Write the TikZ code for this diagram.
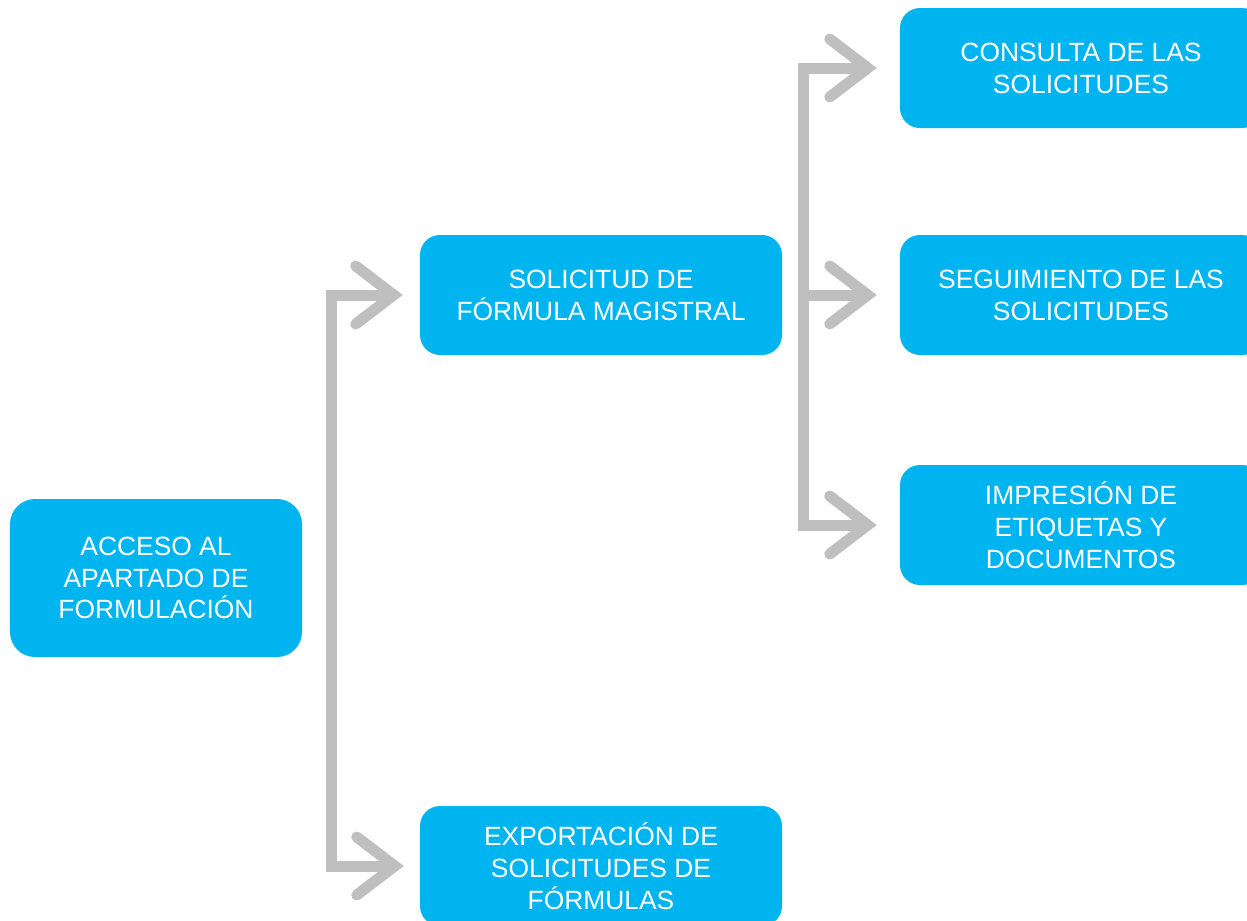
\documentclass[tikz,border=0pt]{standalone}
\usepackage{fontspec}
\setmainfont{Liberation Sans}
\usepackage[x11names, rgb]{xcolor}
\usepackage{tikz}
\usetikzlibrary{arrows.meta,shapes}

\definecolor{boxcol}{HTML}{00B4F0}
\definecolor{linecol}{HTML}{BFBFBF}

\begin{document}
\begin{tikzpicture}[x=1bp,y=-1bp,line join=miter,
  box/.style={fill=boxcol,text=white,rounded corners=20bp,inner sep=0pt,
    align=center,minimum width=362bp,minimum height=120bp,
    font=\fontsize{26.5}{32}\selectfont},
  conn/.style={draw=linecol,line width=11bp,
    -{Straight Barb[length=38bp,width=58bp,line cap=round,line join=miter]}},
]
\useasboundingbox (0,0) rectangle (1247,921);
%%
  % Node: acc
\begin{scope}
  \node [box,minimum width=292bp,minimum height=158bp,rounded corners=25bp] (acc) at (156,578) {ACCESO AL\\APARTADO DE\\FORMULACIÓN};
\end{scope}
  % Node: sol
\begin{scope}
  \node [box] (sol) at (601,295) {SOLICITUD DE\\FÓRMULA MAGISTRAL};
\end{scope}
  % Node: exp
\begin{scope}
  \node [box] (exp) at (601,866) {EXPORTACIÓN DE\\SOLICITUDES DE\\FÓRMULAS};
\end{scope}
  % Node: con
\begin{scope}
  \node [box] (con) at (1081,68) {CONSULTA DE LAS\\SOLICITUDES};
\end{scope}
  % Node: seg
\begin{scope}
  \node [box] (seg) at (1081,295) {SEGUIMIENTO DE LAS\\SOLICITUDES};
\end{scope}
  % Node: imp
\begin{scope}
  \node [box] (imp) at (1081,525) {IMPRESIÓN DE\\ETIQUETAS Y\\DOCUMENTOS};
\end{scope}
%
  % trunks
  \coordinate (ja) at (331,295);
  \coordinate (jb) at (331,866);
  \coordinate (jc) at (803,68);
  \coordinate (jd) at (803,525);
  % Edge: ja -> sol
  \draw [conn,shorten >=17bp] (jb) |- (sol.west);
  % Edge: jb -> exp
  \draw [conn,shorten >=16bp] (ja) |- (exp.west);
  % Edge: jc -> con
  \draw [conn,shorten >=23bp] (jd) |- (con.west);
  % Edge: jc -> seg
  \draw [conn,shorten >=23bp] (jc |- seg.west) -- (seg.west);
  % Edge: jd -> imp
  \draw [conn,shorten >=23bp] (jc) |- (imp.west);
%
\end{tikzpicture}
\end{document}
